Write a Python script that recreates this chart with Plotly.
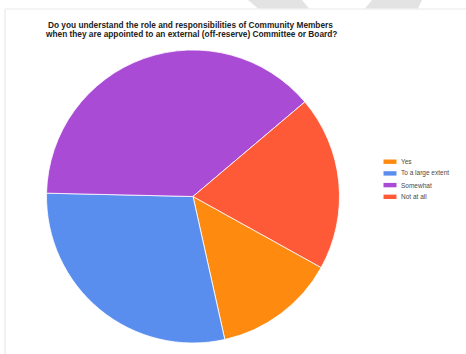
import plotly.graph_objects as go

# Survey responses
labels = ["Yes", "To a large extent", "Somewhat", "Not at all"]
counts = [7, 15, 20, 10]
colors = ["#FF8A10", "#5A8EEE", "#AA4BD5", "#FF5A38"]

title_lines = [
    "Do you understand the role and responsibilities of Community Members",
    "when they are appointed to an external (off-reserve) Committee or Board?",
]

W, H = 466, 354

fig = go.Figure()
fig.add_trace(go.Pie(
    labels=labels,
    values=counts,
    sort=False,
    direction="clockwise",
    rotation=119,
    textinfo="none",
    hoverinfo="label+percent",
    marker=dict(colors=colors, line=dict(color="white", width=0.8)),
    domain=dict(x=[(193 - 147) / W, (193 + 147) / W],
                y=[1 - 343 / H, 1 - 50 / H]),
    showlegend=False,
))

shapes = []
# faint frame lines
shapes.append(dict(type="line", xref="paper", yref="paper",
                   x0=5 / W, x1=1, y0=1 - 9 / H, y1=1 - 9 / H,
                   line=dict(color="#e9e9e9", width=1)))
shapes.append(dict(type="line", xref="paper", yref="paper",
                   x0=5 / W, x1=5 / W, y0=0, y1=1 - 9 / H,
                   line=dict(color="#ededed", width=1.5)))


def poly(pts):
    return "M " + " L ".join(f"{x / W:.5f},{1 - y / H:.5f}" for x, y in pts) + " Z"


# light grey header tabs
shapes.append(dict(type="path", xref="paper", yref="paper",
                   path=poly([(248, 0), (302, 0), (309, 8.5), (258, 8.5)]),
                   fillcolor="#e3e3e3", line=dict(width=0)))
shapes.append(dict(type="path", xref="paper", yref="paper",
                   path=poly([(372, 0), (422, 0), (418, 8.5), (365, 8.5)]),
                   fillcolor="#e3e3e3", line=dict(width=0)))

annotations = []
for line, yc in zip(title_lines, [25, 33.8]):
    annotations.append(dict(
        text=f"<b>{line}</b>",
        x=190.5 / W, y=1 - yc / H, xref="paper", yref="paper",
        xanchor="center", yanchor="middle", showarrow=False,
        font=dict(family="Liberation Sans, Arial", size=8.3, color="#222222"),
    ))

# legend entries
for i, (lab, col) in enumerate(zip(labels, colors)):
    yc = 161.7 + i * 11.7
    shapes.append(dict(type="rect", xref="paper", yref="paper",
                       x0=383.5 / W, x1=396.5 / W,
                       y0=1 - (yc + 2.2) / H, y1=1 - (yc - 2.2) / H,
                       fillcolor=col, line=dict(width=0)))
    annotations.append(dict(
        text=lab, x=398.5 / W, y=1 - yc / H, xref="paper", yref="paper",
        xanchor="left", yanchor="middle", showarrow=False,
        font=dict(family="Liberation Sans, Arial", size=6.5, color="#4a4a4a"),
    ))

fig.update_layout(
    width=W, height=H,
    margin=dict(l=0, r=0, t=0, b=0),
    paper_bgcolor="white", plot_bgcolor="white",
    shapes=shapes, annotations=annotations,
)

fig.write_html("out.html")
